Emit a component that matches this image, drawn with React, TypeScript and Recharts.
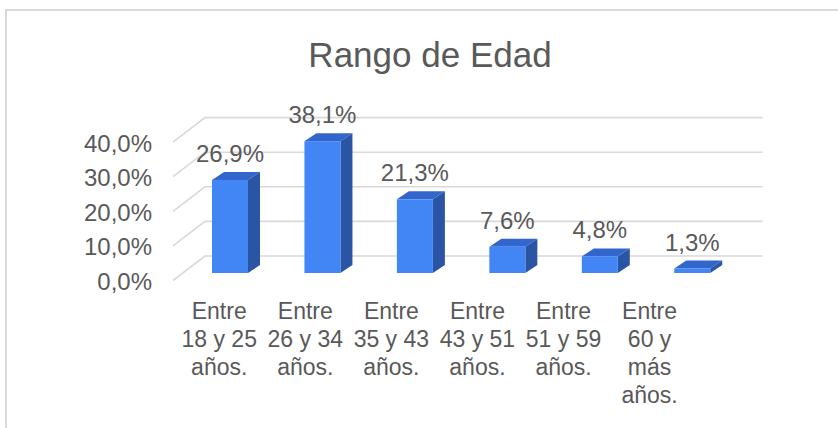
import { BarChart, Bar, XAxis, YAxis, CartesianGrid, LabelList } from "recharts";

const categories = [
  "Entre\n18 y 25\naños.",
  "Entre\n26 y 34\naños.",
  "Entre\n35 y 43\naños.",
  "Entre\n43 y 51\naños.",
  "Entre\n51 y 59\naños.",
  "Entre\n60 y\nmás\naños.",
];
const percentages = [26.9, 38.1, 21.3, 7.6, 4.8, 1.3];
const yTicks = [0, 10, 20, 30, 40];

const data = categories.map((name, i) => ({ name, value: percentages[i] }));

const FONT = "'Liberation Sans', Arial, sans-serif";
const TEXT = "#595959";
const GRID = "#d9d9d9";
const FRONT = "#4285f4";
const TOP = "#3366cc";
const SIDE = "#2a54a4";

// fake 3d: bar depth and the floor depth (front edge -> back wall)
const BAR_DX = 12;
const BAR_DY = 8;

const fmt = (v: number) => `${v.toFixed(1).replace(".", ",")}%`;

// category labels sit on the front edge of the floor, a bit compressed
const toFront = (x: number) => 71 + (x - 71) * 0.931;

function Bar3D(props: any) {
  const { x, y, width, height } = props;
  if (height == null || width == null) return null;
  const r = x + width;
  const b = y + height;
  return (
    <g>
      <polygon
        points={`${x},${y} ${x + BAR_DX},${y - BAR_DY} ${r + BAR_DX},${y - BAR_DY} ${r},${y}`}
        fill={TOP}
      />
      <polygon
        points={`${r},${y} ${r + BAR_DX},${y - BAR_DY} ${r + BAR_DX},${b - BAR_DY} ${r},${b}`}
        fill={SIDE}
      />
      <rect x={x} y={y} width={width} height={height} fill={FRONT} />
    </g>
  );
}

function GridLine(props: any) {
  const { x1, x2, y1, index } = props;
  // front edge -> back wall -> across the wall
  const pts = `${x1 - 11},${y1 + 7.5} ${x1 + 21},${y1 - 17} ${x2 + 24},${y1 - 17}`;
  return (
    <polyline
      key={`grid-${index}`}
      points={pts}
      fill="none"
      stroke={GRID}
      strokeWidth={1.6}
    />
  );
}

function YTick(props: any) {
  const { x, y, payload } = props;
  return (
    <text
      x={x - 32}
      y={y + 17}
      textAnchor="end"
      fontFamily={FONT}
      fontSize={24}
      fill={TEXT}
    >
      {fmt(payload.value)}
    </text>
  );
}

function XTick(props: any) {
  const { x, y, payload } = props;
  const lines = String(payload.value).split("\n");
  const cx = toFront(x);
  return (
    <text textAnchor="middle" fontFamily={FONT} fontSize={23} fill={TEXT}>
      {lines.map((line, i) => (
        <tspan key={i} x={cx} y={y + 46 + i * 28}>
          {line}
        </tspan>
      ))}
    </text>
  );
}

function ValueLabel(props: any) {
  const { x, y, width, value } = props;
  return (
    <text
      x={x + width / 2}
      y={y - 18}
      textAnchor="middle"
      fontFamily={FONT}
      fontSize={24}
      fill={TEXT}
    >
      {fmt(value)}
    </text>
  );
}

export default function App() {
  return (
    <div
      style={{
        position: "absolute",
        left: 0,
        top: 0,
        width: 838,
        height: 428,
        overflow: "hidden",
        background: "#fff",
      }}
    >
      <div
        style={{
          position: "absolute",
          left: 5,
          top: 9,
          width: 900,
          height: 500,
          border: `2px solid ${GRID}`,
        }}
      />
      <div
        style={{
          position: "absolute",
          left: 130,
          top: 37,
          width: 600,
          textAlign: "center",
          fontFamily: FONT,
          fontSize: 35,
          lineHeight: "35px",
          color: TEXT,
        }}
      >
        Rango de Edad
      </div>
      <div style={{ position: "absolute", left: 0, top: 0 }}>
        <BarChart
          width={838}
          height={428}
          data={data}
          margin={{ top: 134.6, right: 99.3, bottom: 25, left: 0 }}
        >
          <CartesianGrid vertical={false} horizontal={GridLine} />
          <XAxis
            dataKey="name"
            axisLine={false}
            tickLine={false}
            tickSize={0}
            tickMargin={0}
            height={130}
            interval={0}
            tick={XTick}
          />
          <YAxis
            domain={[0, 40]}
            ticks={yTicks}
            width={184}
            axisLine={false}
            tickLine={false}
            tickSize={0}
            tickMargin={0}
            tick={YTick}
          />
          <Bar
            dataKey="value"
            barSize={36}
            shape={Bar3D}
            isAnimationActive={false}
          >
            <LabelList dataKey="value" content={ValueLabel} />
          </Bar>
        </BarChart>
      </div>
    </div>
  );
}
